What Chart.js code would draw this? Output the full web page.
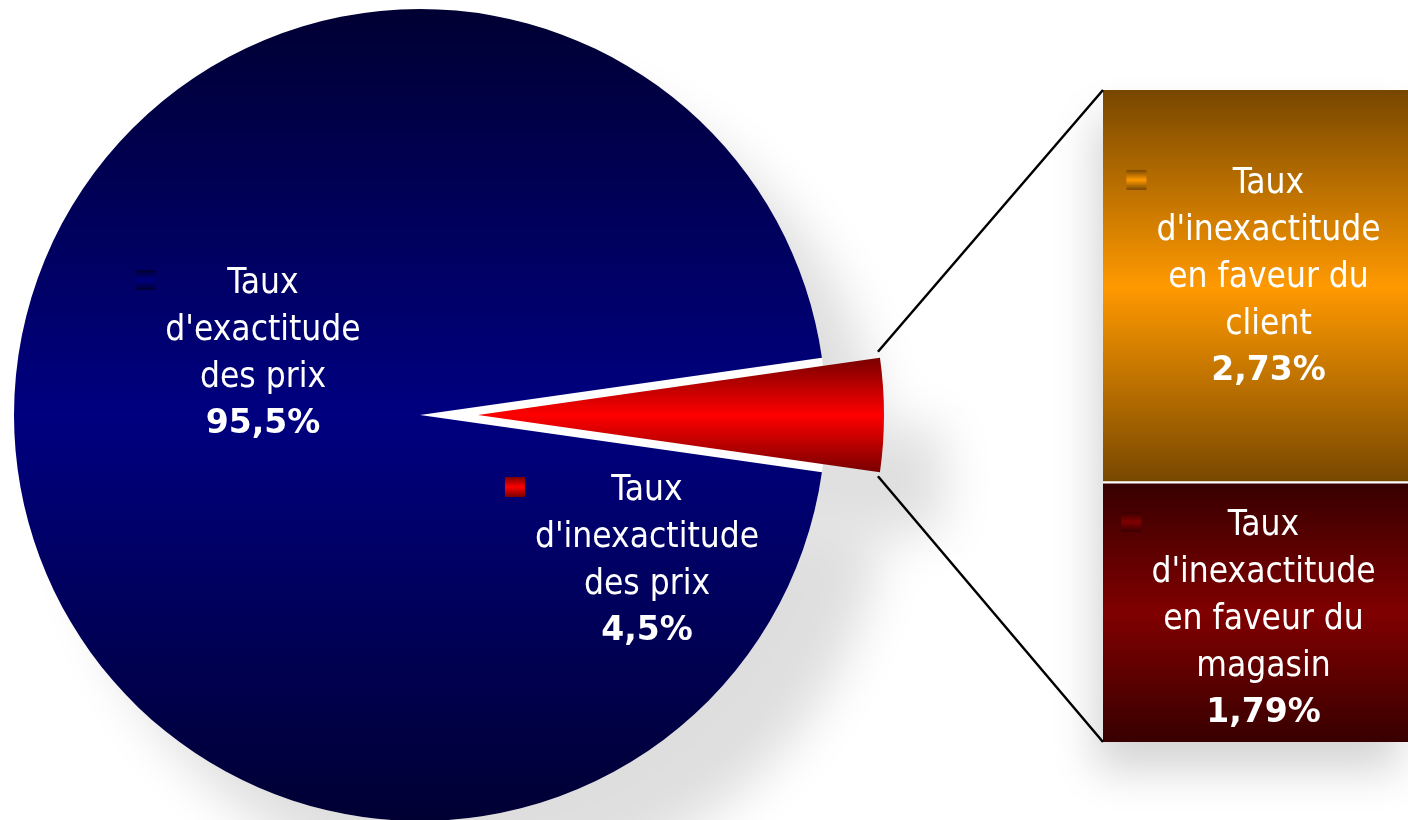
<!DOCTYPE html>
<html>
<head>
<meta charset="utf-8">
<title>Taux d'exactitude des prix</title>
<script src="https://cdn.jsdelivr.net/npm/chart.js@4.4.1/dist/chart.umd.min.js"></script>
<style>
  html, body { margin: 0; padding: 0; background: #fff; }
  #stage { position: relative; width: 1408px; height: 820px; overflow: hidden; }
  #stage canvas { position: absolute; left: 0; top: 0; }
</style>
</head>
<body>
<div id="stage">
  <canvas id="pie" width="1408" height="820"></canvas>
  <canvas id="bar" width="1408" height="820"></canvas>
</div>
<script>
/**
 * Data
 */
var pieCategories = [
  ["Taux", "d'exactitude", "des prix"],
  ["Taux", "d'inexactitude", "des prix"]
];
var pieValues = [95.5, 4.5];

// stacked bar, bottom -> top
var barCategories = [
  ["Taux", "d'inexactitude", "en faveur du", "magasin"],
  ["Taux", "d'inexactitude", "en faveur du", "client"]
];
var barValues = [1.79, 2.73];

/**
 * Styles
 */
var pieColors = [["#000033", "#000080", "#000033"], ["#780000", "#ff0000", "#780000"]];
var barColors = [["#380000", "#800000", "#380000"], ["#774700", "#ff9900", "#774700"]];

var PIE_R = 406;
var EXPLODE = 58;
var FONT = '"DejaVu Sans Condensed", "DejaVu Sans", sans-serif';
var FONT_BOLD = '"DejaVu Sans", sans-serif';
var FONT_SIZE = 35;
var LINE_H = 47;

// label anchors : text centre x / first baseline, relative to the element
var pieLabelPos = [{ dx: -157, dy: -122 }, { dx: 227, dy: 85 }];
var barLabelPos = [{ dx: 8, dy: -78 }, { dx: 13, dy: -94 }];

var pieTotal = pieValues.reduce(function (a, b) { return a + b; }, 0);
var barTotal = barValues.reduce(function (a, b) { return a + b; }, 0);

function vGradient(ctx, top, bottom, stops) {
  var g = ctx.createLinearGradient(0, top, 0, bottom);
  g.addColorStop(0, stops[0]);
  g.addColorStop(0.5, stops[1]);
  g.addColorStop(1, stops[2]);
  return g;
}

function fmt(v, d) {
  return v.toFixed(d).replace(".", ",") + "%";
}

function drawLabel(ctx, lines, value, cx, y0, stops) {
  ctx.save();
  ctx.fillStyle = "#fff";
  ctx.textAlign = "center";
  ctx.textBaseline = "alphabetic";
  ctx.font = FONT_SIZE + "px " + FONT;
  var widest = 0;
  for (var i = 0; i < lines.length; i++) {
    widest = Math.max(widest, ctx.measureText(lines[i]).width);
    ctx.fillText(lines[i], cx, y0 + i * LINE_H);
  }
  ctx.font = "bold " + (FONT_SIZE - 2) + "px " + FONT_BOLD;
  ctx.fillText(value, cx, y0 + lines.length * LINE_H - 1);

  // legend key
  var kx = cx - widest / 2 - 30, ky = y0 - 23;
  ctx.fillStyle = vGradient(ctx, ky, ky + 20, stops);
  ctx.fillRect(kx, ky, 20, 20);
  ctx.restore();
}

// soft shadow of a shape, without the shape itself; holes are left clear
function shadowPath(ctx, color, blur, ox, oy, pathFn, holeFn) {
  var far = 4000;
  ctx.save();
  if (holeFn) {
    ctx.beginPath();
    ctx.rect(0, 0, ctx.canvas.width, ctx.canvas.height);
    holeFn();
    ctx.clip("evenodd");
  }
  ctx.shadowColor = color;
  ctx.shadowBlur = blur;
  ctx.shadowOffsetX = far + ox;
  ctx.shadowOffsetY = oy;
  ctx.fillStyle = "#000";
  ctx.beginPath();
  pathFn(-far);
  ctx.fill();
  ctx.restore();
}

/**
 * Pie : explode the small slice, shadow, labels
 */
var pieDecor = {
  id: "pieDecor",
  afterDatasetsUpdate: function (chart) {
    var arc = chart.getDatasetMeta(0).data[1];
    var mid = (arc.startAngle + arc.endAngle) / 2;
    arc.x += EXPLODE * Math.cos(mid);
    arc.y += EXPLODE * Math.sin(mid);
  },
  beforeDatasetsDraw: function (chart) {
    var ctx = chart.ctx;
    var arcs = chart.getDatasetMeta(0).data;
    var main = arcs[0];
    shadowPath(ctx, "rgba(0,0,0,0.13)", 50, 60, 65, function (shift) {
      arcs.forEach(function (a) {
        ctx.moveTo(a.x + shift, a.y);
        ctx.arc(a.x + shift, a.y, a.outerRadius, a.startAngle, a.endAngle);
        ctx.closePath();
      });
    }, function () {
      ctx.moveTo(main.x + main.outerRadius, main.y);
      ctx.arc(main.x, main.y, main.outerRadius, 0, Math.PI * 2);
      ctx.closePath();
    });
  },
  afterDatasetsDraw: function (chart) {
    var area = chart.chartArea;
    var cx = (area.left + area.right) / 2, cy = (area.top + area.bottom) / 2;
    for (var i = 0; i < pieValues.length; i++) {
      drawLabel(chart.ctx, pieCategories[i], fmt(pieValues[i], 1),
        cx + pieLabelPos[i].dx, cy + pieLabelPos[i].dy, pieColors[i]);
    }
  }
};

function pieColor(c) {
  var area = c.chart.chartArea;
  if (!area || !isFinite(area.top)) return pieColors[c.dataIndex][1];
  var cy = (area.top + area.bottom) / 2;
  if (c.dataIndex === 0) return vGradient(c.chart.ctx, cy - PIE_R, cy + PIE_R, pieColors[0]);
  var h = PIE_R * Math.sin(Math.PI * pieValues[1] / pieTotal);
  return vGradient(c.chart.ctx, cy - h, cy + h, pieColors[1]);
}

// small slice centred on the right (3 o'clock)
var rotation = 90 - 360 * (pieValues[0] + pieValues[1] / 2) / pieTotal;

var pieChart = new Chart(document.getElementById("pie"), {
  type: "pie",
  data: {
    labels: pieCategories.map(function (l) { return l.join(" "); }),
    datasets: [{
      data: pieValues,
      backgroundColor: pieColor,
      borderWidth: 0,
      radius: PIE_R
    }]
  },
  options: {
    responsive: false,
    animation: false,
    devicePixelRatio: 1,
    rotation: rotation,
    radius: PIE_R,
    layout: { padding: { left: 0, right: 568, top: 10, bottom: 0 } },
    plugins: { legend: { display: false }, tooltip: { enabled: false } }
  },
  plugins: [pieDecor]
});

/**
 * Bar of pie : shadow, connectors, labels
 */
var barDecor = {
  id: "barDecor",
  beforeDatasetsDraw: function (chart) {
    var ctx = chart.ctx;
    var a = chart.chartArea;
    shadowPath(ctx, "rgba(0,0,0,0.17)", 40, -8, 28, function (shift) {
      ctx.rect(a.left + shift, a.top, a.right - a.left, a.bottom - a.top);
    });
  },
  afterDatasetsDraw: function (chart) {
    var ctx = chart.ctx;
    var low = chart.getDatasetMeta(0).data[0];
    var high = chart.getDatasetMeta(1).data[0];
    var slice = pieChart.getDatasetMeta(0).data[1];

    // connector lines
    ctx.save();
    ctx.strokeStyle = "#000";
    ctx.lineWidth = 2.5;
    ctx.beginPath();
    ctx.moveTo(slice.x + slice.outerRadius * Math.cos(slice.startAngle) - 2, slice.y + slice.outerRadius * Math.sin(slice.startAngle) - 6);
    ctx.lineTo(high.x - high.width / 2, high.y);
    ctx.moveTo(slice.x + slice.outerRadius * Math.cos(slice.endAngle) - 2, slice.y + slice.outerRadius * Math.sin(slice.endAngle) + 4);
    ctx.lineTo(low.x - low.width / 2, low.base);
    ctx.stroke();
    ctx.restore();

    var bars = [low, high];
    for (var i = 0; i < barValues.length; i++) {
      var mid = (bars[i].y + bars[i].base) / 2;
      drawLabel(ctx, barCategories[i], fmt(barValues[i], 2),
        bars[i].x + barLabelPos[i].dx, mid + barLabelPos[i].dy, barColors[i]);
    }
  }
};

function barColor(c) {
  var y = c.chart.scales.y;
  var k = c.datasetIndex;
  if (!y) return barColors[k][1];
  var from = 0;
  for (var i = 0; i < k; i++) from += barValues[i];
  var top = y.getPixelForValue(from + barValues[k]);
  var bottom = y.getPixelForValue(from);
  if (!isFinite(top) || !isFinite(bottom)) return barColors[k][1];
  return vGradient(c.chart.ctx, top, bottom, barColors[k]);
}

var barChart = new Chart(document.getElementById("bar"), {
  type: "bar",
  data: {
    labels: [""],
    datasets: [{
      label: barCategories[0].join(" "),
      data: [barValues[0]],
      backgroundColor: barColor,
      borderWidth: 0
    }, {
      label: barCategories[1].join(" "),
      data: [barValues[1]],
      backgroundColor: barColor,
      borderColor: "#fff",
      borderWidth: { top: 0, left: 0, right: 0, bottom: 3 },
      borderSkipped: false
    }]
  },
  options: {
    responsive: false,
    animation: false,
    devicePixelRatio: 1,
    barPercentage: 1,
    categoryPercentage: 1,
    layout: { padding: { left: 1103, right: 0, top: 90, bottom: 78 } },
    scales: {
      x: { display: false, stacked: true },
      y: { display: false, stacked: true, min: 0, max: barTotal }
    },
    plugins: { legend: { display: false }, tooltip: { enabled: false } }
  },
  plugins: [barDecor]
});
</script>
</body>
</html>
